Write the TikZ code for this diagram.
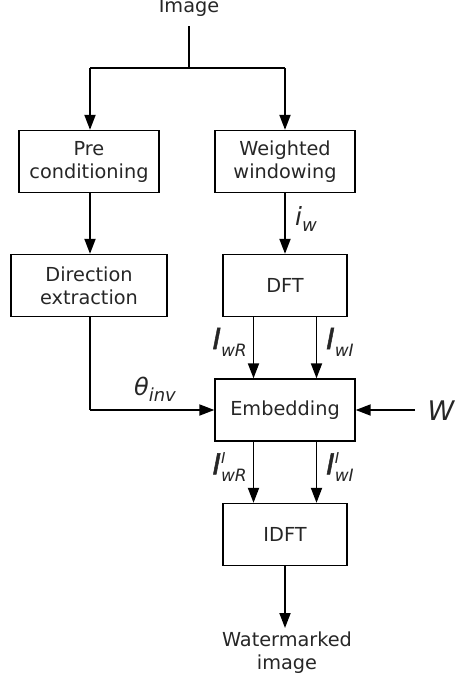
\documentclass[tikz,border=0pt]{standalone}
\usepackage{fontspec}
\setmainfont{DejaVu Sans}
\newfontfamily\heavyI{DejaVu Sans}[FakeBold=1.6]
\usetikzlibrary{arrows.meta}
\definecolor{txt}{gray}{0.15}
\newcommand\mylab[3]{{\heavyI\itshape\fontsize{29}{29}\selectfont #1}\makebox[0pt][l]{\raisebox{11pt}{\itshape\fontsize{15}{15}\selectfont #2}}\raisebox{-7pt}{\itshape\fontsize{17}{17}\selectfont #3}}
\begin{document}
\begin{tikzpicture}[x=1pt,y=-1pt,
  blk/.style={draw=black,line width=1.3pt,minimum height=62pt,inner sep=0pt,align=center,
    text=txt,font=\fontsize{19.3}{23}\selectfont},
  plain/.style={text=txt,font=\fontsize{19.3}{23}\selectfont,align=center,inner sep=0pt},
  arr/.style={line width=1.8pt,-{Triangle[length=15pt,width=11pt]}},
  ln/.style={line width=1.3pt},
  lbl/.style={inner sep=0pt,text=txt}]
\useasboundingbox (0,0) rectangle (457,683);
\node[blk,minimum width=140pt] (pre) at (89,161.5) {Pre\\conditioning};
\node[blk,minimum width=140pt] (ww) at (285,161.5) {Weighted\\windowing};
\node[blk,minimum width=156pt] (dir) at (89,285.5) {Direction\\extraction};
\node[blk,minimum width=124pt] (dft) at (285,285.5) {DFT};
\node[blk,minimum width=140pt] (emb) at (285,410) {Embedding};
\node[blk,minimum width=124pt] (idft) at (285,534.5) {IDFT};
\node[plain,anchor=base] (img) at (189,12) {Image};
\node[plain] (wm) at (287,653) {Watermarked\\image};
\coordinate (top) at (189,26);
\coordinate (split) at (189,68);
\coordinate (sl) at (90,68);
\coordinate (sr) at (285,68);
\coordinate (corner) at (90,410);
\coordinate (win) at (415,410);
\coordinate (wmtop) at (285,628);
\draw[ln] (top) -- (split);
\draw[ln] (sl) -- (sr);
\draw[arr] (sl) -- (pre.north -| sl);
\draw[arr] (sr) -- (ww.north);
\draw[arr] (pre.south -| sl) -- (dir.north -| sl);
\draw[arr] (ww.south) -- (dft.north);
\draw[arr] (dft.south) ++(-31.5,0) coordinate (a1) -- (a1 |- emb.north);
\draw[arr] (dft.south) ++(31.5,0) coordinate (a2) -- (a2 |- emb.north);
\draw[ln] (dir.south -| corner) -- (corner);
\draw[arr] (corner) -- (emb.west);
\draw[arr] (win) -- (emb.east);
\draw[arr] (emb.south) ++(-31.5,0) coordinate (b1) -- (b1 |- idft.north);
\draw[arr] (emb.south) ++(31.5,0) coordinate (b2) -- (b2 |- idft.north);
\draw[arr] (idft.south) -- (wmtop);
\node[lbl,anchor=west] (iw) at (295,219) {{\itshape\fontsize{25}{25}\selectfont i}\raisebox{-6pt}{\itshape\fontsize{18}{18}\selectfont w}};
\node[lbl,anchor=east] (iwr) at (247,342) {\mylab{I}{}{wR}};
\node[lbl,anchor=west] (iwi) at (326,342) {\mylab{I}{}{wI}};
\node[lbl,anchor=east] (iwr2) at (247,467) {\mylab{I}{I}{wR}};
\node[lbl,anchor=west] (iwi2) at (326,467) {\mylab{I}{I}{wI}};
\node[lbl] (th) at (155,389) {{\itshape\fontsize{24}{24}\selectfont θ}\raisebox{-6pt}{\itshape\fontsize{18}{18}\selectfont inv}};
\node[lbl] (w) at (441,411) {\itshape\fontsize{27}{27}\selectfont W};
\end{tikzpicture}
\end{document}
